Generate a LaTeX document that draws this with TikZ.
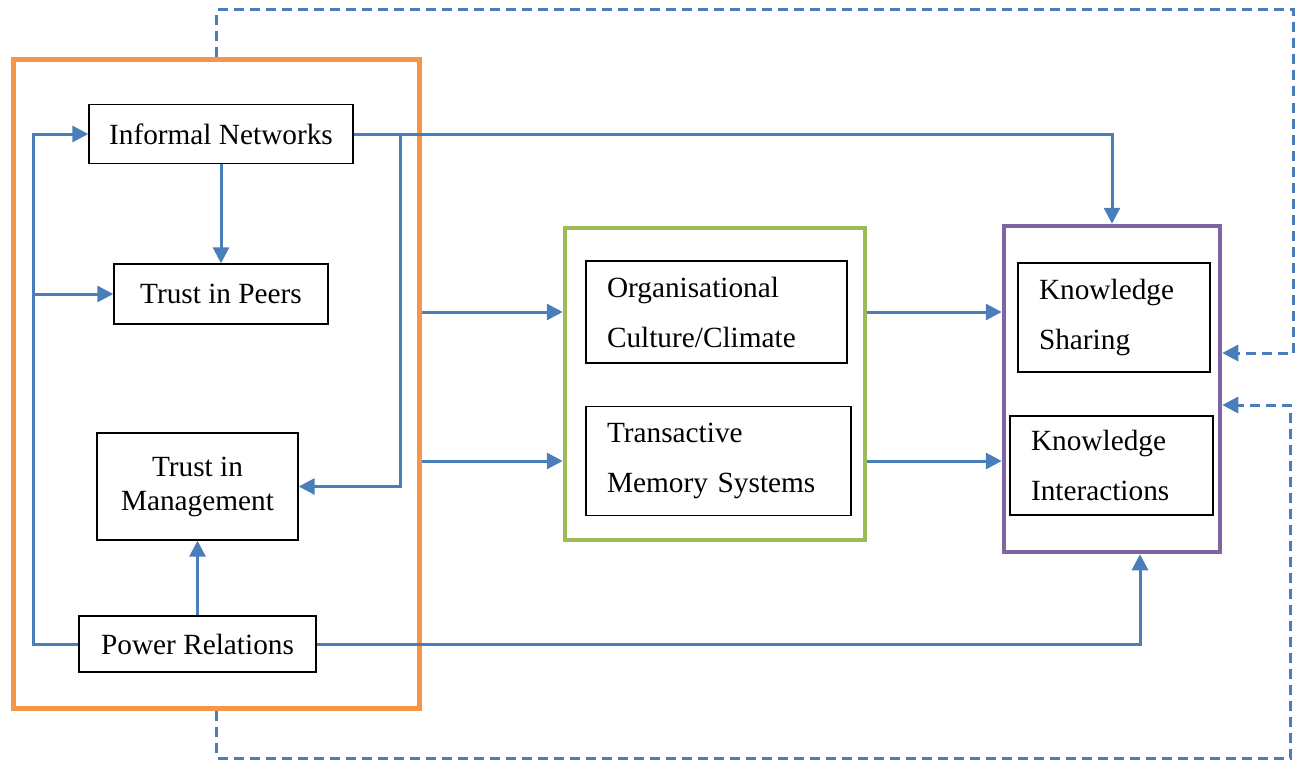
\documentclass[tikz,border=0pt]{standalone}
\usepackage{fontspec}
\setmainfont{Liberation Serif}
\usetikzlibrary{arrows.meta}

\definecolor{linkblue}{HTML}{4A7EBB}
\definecolor{frameorange}{HTML}{F79646}
\definecolor{framegreen}{HTML}{9BBB59}
\definecolor{framepurple}{HTML}{8064A2}

\tikzset{
  box/.style={draw,shape=rectangle,line width=1.4pt,inner sep=0pt,
    font=\fontsize{29.3}{34}\selectfont,align=center},
  leftbox/.style={box,inner xsep=21pt,align=left,
    font=\fontsize{29.3}{50}\selectfont},
  frame/.style={draw,shape=rectangle,line width=#1,inner sep=0pt},
  flow/.style={draw=linkblue,line width=3pt,
    -{Triangle[length=16pt,width=16pt]}},
  feedback/.style={flow,dash pattern=on 10pt off 6pt}
}

\begin{document}
\begin{tikzpicture}[x=1pt,y=-1pt]
  \useasboundingbox (0,0) rectangle (1302,760);
  \node[frame=5pt,draw=frameorange,minimum width=406pt,minimum height=649pt] (social) at (216.5,384) {};
  \node[frame=4.5pt,draw=framegreen,minimum width=300pt,minimum height=312pt] (enablers) at (715,384) {};
  \node[frame=4.5pt,draw=framepurple,minimum width=216pt,minimum height=326pt] (outcome) at (1112,389) {};

  \node[box,minimum width=264pt,minimum height=59pt] (informal) at (221,134) {Informal Networks};
  \node[box,minimum width=214pt,minimum height=60pt] (peers) at (221,294) {Trust in Peers};
  \node[box,minimum width=201pt,minimum height=107pt] (mgmt) at (197.5,486.5) {Trust in\\Management};
  \node[box,minimum width=237pt,minimum height=56pt] (power) at (197.5,644) {Power Relations};

  \node[leftbox,text width=219pt,minimum height=102pt] (climate) at (716.5,312) {Organisational\\Culture/Climate};
  \node[leftbox,text width=223pt,minimum height=109pt] (tms) at (718.5,461) {Transactive\\Memory Systems};

  \node[leftbox,text width=150pt,minimum height=109pt] (sharing) at (1114,317.5) {Knowledge\\Sharing};
  \node[leftbox,text width=161pt,minimum height=99pt] (interact) at (1111.5,465.5) {Knowledge\\Interactions};

  \coordinate (bus) at (33,134);
  \draw[flow] (power.west) -| (bus) -- (informal.west);
  \draw[flow] (bus |- peers.west) -- (peers.west);
  \draw[flow] (informal.south) -- (peers.north);
  \draw[flow] (informal.east) -- ++(47,0) |- (mgmt.east);
  \draw[flow] (informal.east) -| (outcome.north);
  \draw[flow] (power.north) -- (mgmt.south);
  \draw[flow] (power.east) -| ([xshift=28pt]outcome.south);

  \draw[flow] (social.east |- climate.west) -- (enablers.west |- climate.west);
  \draw[flow] (social.east |- tms.west) -- (enablers.west |- tms.west);
  \draw[flow] (enablers.east |- climate.west) -- (outcome.west |- climate.west);
  \draw[flow] (enablers.east |- tms.west) -- (outcome.west |- tms.west);

  \coordinate (fbtop) at (1293,10);
  \coordinate (fbbottom) at (1290,758);
  \draw[feedback] (social.north) |- (fbtop) |- (outcome.east |- 0,353);
  \draw[feedback] (social.south) |- (fbbottom) |- (outcome.east |- 0,405);
\end{tikzpicture}
\end{document}
